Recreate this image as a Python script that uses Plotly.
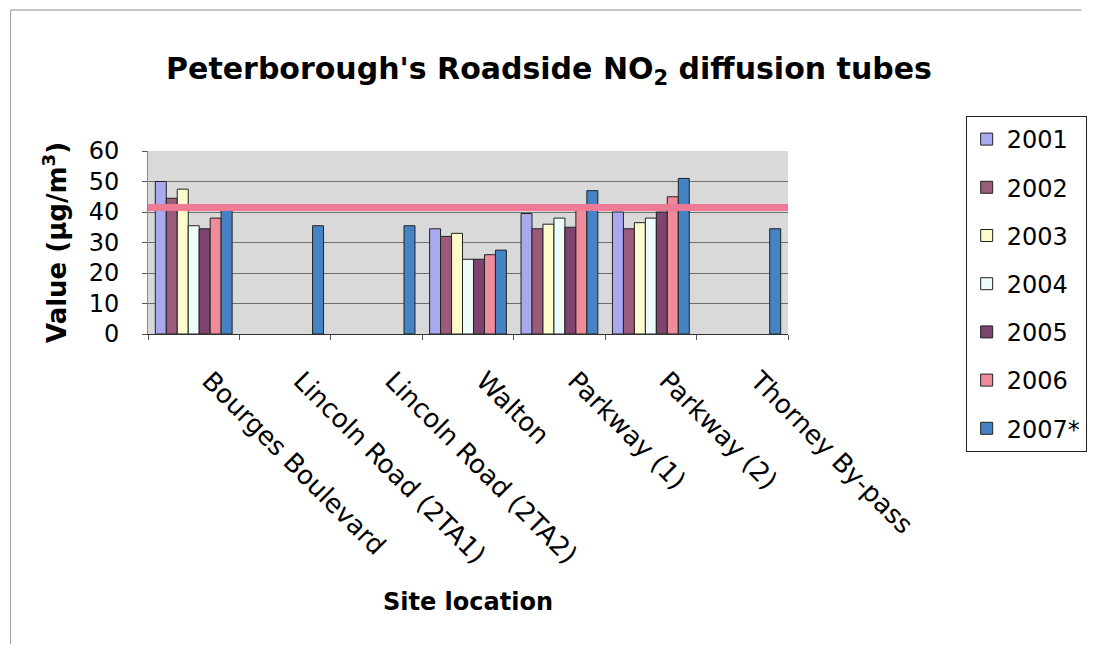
import plotly.graph_objects as go

# ---- data ----
sites = ["Bourges Boulevard", "Lincoln Road (2TA1)", "Lincoln Road (2TA2)",
         "Walton", "Parkway (1)", "Parkway (2)", "Thorney By-pass"]
years = ["2001", "2002", "2003", "2004", "2005", "2006", "2007*"]
v2001 = [50.0, None, None, 34.5, 39.5, 40.0, None]
v2002 = [44.5, None, None, 32.0, 34.5, 34.5, None]
v2003 = [47.5, None, None, 33.0, 36.0, 36.5, None]
v2004 = [35.5, None, None, 24.5, 38.0, 38.0, None]
v2005 = [34.5, None, None, 24.5, 35.0, 40.0, None]
v2006 = [38.0, None, None, 26.0, 41.0, 45.0, None]
v2007 = [40.5, 35.5, 35.5, 27.5, 47.0, 51.0, 34.5]
objective = 41.5
y_ticks = [0, 10, 20, 30, 40, 50, 60]

series = [v2001, v2002, v2003, v2004, v2005, v2006, v2007]
colors = ["#A9A9EE", "#9B5B7B", "#FBFBCB", "#EEFBFB", "#7D4470", "#EE8C9C", "#4484C4"]

FONT = "DejaVu Sans"
W, H = 1091, 641          # page body has an 8px margin
L, R, T, B = 140, 299, 143, 315
PW, PH = W - L - R, H - T - B

fig = go.Figure()
for yr, vals, col in zip(years, series, colors):
    fig.add_trace(go.Bar(
        name=yr, x=sites, y=vals,
        marker=dict(color=col, line=dict(color="#222222", width=1)),
        legendgroup=yr,
    ))

# objective line
fig.add_shape(type="line", xref="paper", x0=0, x1=1, yref="y",
              y0=objective, y1=objective,
              line=dict(color="#EE7A95", width=7), layer="above")

# outer chart border remnants
fig.add_shape(type="line", xref="paper", yref="paper",
              x0=-L / PW, x1=(W - L) / PW, y0=(PH + T - 2) / PH, y1=(PH + T - 2) / PH,
              line=dict(color="#8A8A8A", width=1))
fig.add_shape(type="line", xref="paper", yref="paper",
              x0=-L / PW, x1=-L / PW, y0=(PH + T - 2) / PH, y1=-(B - 5) / PH,
              line=dict(color="#9A9A9A", width=1))

fig.update_layout(
    width=W, height=H,
    margin=dict(l=L, r=R, t=T, b=B),
    paper_bgcolor="white",
    plot_bgcolor="#D9D9D9",
    barmode="group",
    bargap=0.16, bargroupgap=0,
    title=dict(
        text="<b>Peterborough's Roadside NO<sub>2</sub> diffusion tubes</b>",
        font=dict(family=FONT, size=30, color="black"),
        x=541 / W, xref="container", xanchor="center",
        y=1 - 60 / H, yref="container", yanchor="middle",
    ),
    font=dict(family=FONT, color="black"),
    legend=dict(
        x=(973 - L) / PW, xanchor="left",
        y=(T + PH - 108) / PH, yanchor="top",
        bgcolor="white", bordercolor="#222222", borderwidth=1,
        font=dict(family=FONT, size=24, color="black"),
        tracegroupgap=14,
        maxheight=460,
    ),
    showlegend=True,
)

fig.update_yaxes(
    range=[0, 60], tickvals=y_ticks,
    showgrid=True, gridcolor="#6E6E6E", gridwidth=1,
    ticks="outside", ticklen=5, tickcolor="#555555",
    showline=True, linecolor="#888888",
    tickfont=dict(family=FONT, size=24, color="black"),
    ticklabelstandoff=18,
    title=dict(text="<b>Value (µg/m<sup>3</sup>)</b>",
               font=dict(family=FONT, size=26, color="black"), standoff=14),
    zeroline=False,
)
fig.update_xaxes(
    tickangle=45,
    ticks="outside", ticklen=5, tickcolor="#555555", tickson="boundaries",
    showline=True, linecolor="#333333",
    tickfont=dict(family=FONT, size=26, color="black"),
    ticklabelstandoff=20, ticklabelshift=16,
    title=dict(text="<b>Site location</b>",
               font=dict(family=FONT, size=24, color="black"), standoff=24),
)

fig.write_html("out.html")
